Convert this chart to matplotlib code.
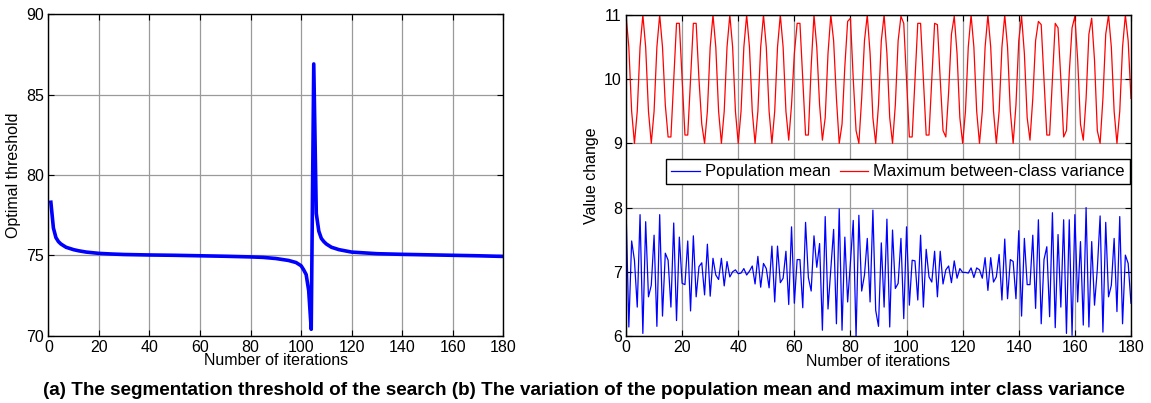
import numpy as np
import matplotlib.pyplot as plt

plt.rcParams['font.family'] = ['Liberation Sans', 'DejaVu Sans']
plt.rcParams['font.size'] = 11

# (a) optimal threshold vs iteration
thr_x = [1, 2, 3, 4, 5, 6, 7, 8, 10, 12, 15, 20, 25, 30, 40, 50, 60, 70, 80, 85,
         90, 95, 98, 100, 101, 102, 103, 104, 105, 106, 107, 108, 109, 110, 112,
         115, 120, 130, 140, 150, 160, 170, 180]
thr_y = [78.3, 76.7, 76.1, 75.85, 75.7, 75.6, 75.5, 75.45, 75.35, 75.28, 75.2,
         75.12, 75.08, 75.05, 75.02, 75.0, 74.97, 74.94, 74.9, 74.87, 74.8, 74.68,
         74.55, 74.35, 74.1, 73.8, 72.8, 70.4, 86.9, 77.6, 76.5, 76.05, 75.85,
         75.7, 75.5, 75.35, 75.2, 75.1, 75.06, 75.03, 75.0, 74.97, 74.93]

# (b) population mean and max between-class variance, iterations 0..180
pop_mean = [
    8.00, 6.14, 7.48, 7.18, 6.45, 7.89, 6.04, 7.78, 6.61, 6.79,
    7.57, 6.15, 7.89, 6.31, 7.29, 7.18, 6.45, 7.76, 6.24, 7.54,
    6.82, 6.80, 7.48, 6.39, 7.56, 6.61, 7.08, 7.14, 6.64, 7.43,
    6.62, 7.21, 6.95, 6.88, 7.21, 6.78, 7.16, 6.92, 7.00, 7.03,
    6.97, 6.98, 7.05, 6.95, 7.01, 7.09, 6.81, 7.24, 6.76, 7.13,
    7.05, 6.75, 7.40, 6.53, 7.40, 6.83, 6.90, 7.32, 6.49, 7.70,
    6.51, 7.19, 7.19, 6.44, 7.77, 6.91, 6.70, 7.56, 7.07, 7.44,
    6.09, 7.86, 6.42, 7.04, 7.66, 6.19, 7.98, 6.09, 7.54, 6.53,
    7.15, 7.80, 5.98, 7.88, 6.70, 6.95, 7.52, 6.53, 7.96, 6.40,
    6.15, 7.45, 6.45, 7.82, 6.14, 7.65, 6.74, 6.82, 7.52, 6.27,
    7.70, 6.48, 7.18, 7.17, 6.56, 7.57, 6.45, 7.35, 6.92, 6.84,
    7.32, 6.61, 7.32, 6.81, 7.03, 7.09, 6.83, 7.17, 6.90, 7.05,
    6.99, 6.99, 6.98, 7.06, 6.91, 7.06, 7.03, 6.90, 7.22, 6.71,
    7.22, 6.84, 6.92, 7.27, 6.56, 7.51, 6.58, 7.19, 7.16, 6.58,
    7.64, 6.31, 7.52, 6.80, 6.80, 7.57, 6.43, 7.81, 6.19, 7.19,
    7.39, 6.30, 7.92, 6.13, 7.58, 6.45, 7.81, 6.04, 7.81, 6.01,
    7.89, 6.53, 7.47, 6.17, 8.00, 6.14, 7.47, 6.48, 7.04, 7.87,
    6.06, 7.77, 6.61, 6.79, 7.52, 6.38, 7.86, 6.19, 7.26, 7.13,
    6.51]

max_var = [
    11.0, 10.5, 9.5, 9.0, 9.5, 10.5, 11.0, 10.5, 9.5, 9.0,
    9.5, 10.5, 11.0, 10.5, 9.6, 9.1, 9.1, 10.0, 10.87, 10.87,
    10.0, 9.13, 9.13, 10.0, 10.87, 10.87, 10.0, 9.3, 9.0, 9.5,
    10.5, 11.0, 10.5, 9.5, 9.0, 9.5, 10.5, 11.0, 10.5, 9.5,
    9.0, 9.5, 10.5, 11.0, 10.5, 9.5, 9.0, 9.5, 10.5, 11.0,
    10.5, 9.5, 9.0, 9.5, 10.5, 11.0, 10.5, 9.5, 9.05, 9.6,
    10.4, 10.87, 10.87, 10.0, 9.13, 9.13, 10.2, 11.0, 10.5, 9.6,
    9.05, 9.4, 10.4, 11.0, 10.6, 9.7, 9.0, 9.3, 10.2, 10.9,
    10.95, 10.0, 9.2, 9.0, 9.7, 10.6, 11.0, 10.4, 9.4, 9.0,
    9.6, 10.6, 11.0, 10.4, 9.4, 9.0, 9.6, 10.6, 10.98, 10.87,
    10.0, 9.1, 9.1, 10.0, 10.87, 10.87, 10.0, 9.13, 9.13, 10.0,
    10.87, 10.85, 10.0, 9.2, 9.1, 9.8, 10.7, 10.98, 10.4, 9.4,
    9.0, 9.5, 10.5, 11.0, 10.5, 9.5, 9.0, 9.5, 10.5, 11.0,
    10.5, 9.5, 9.0, 9.5, 10.5, 11.0, 10.5, 9.5, 9.0, 9.6,
    10.6, 10.98, 10.4, 9.4, 9.05, 9.7, 10.6, 10.9, 10.85, 10.0,
    9.13, 9.13, 10.0, 10.87, 10.8, 10.0, 9.1, 9.2, 10.1, 10.8,
    10.98, 10.3, 9.3, 9.05, 9.7, 10.7, 10.95, 10.3, 9.2, 9.0,
    9.7, 10.7, 11.0, 10.5, 9.5, 9.0, 9.5, 10.5, 11.0, 10.6,
    9.7]

iters = np.arange(len(pop_mean))

fig = plt.figure(figsize=(11.51, 4.03), dpi=100)
ax1 = fig.add_axes([0.042, 0.167, 0.3953, 0.798])
ax2 = fig.add_axes([0.5439, 0.1663, 0.4387, 0.7965])

def style(ax):
    ax.grid(True, color='#9a9a9a', linewidth=0.9)
    ax.set_axisbelow(True)
    ax.tick_params(direction='in', top=True, right=True, length=4, pad=3,
                   labelsize=11.5)
    for s in ax.spines.values():
        s.set_linewidth(1.0)
    ax.set_xlim(0, 180)
    ax.set_xticks(range(0, 181, 20))
    ax.set_xlabel('Number of iterations', labelpad=-1, fontsize=11.5)

ax1.plot(thr_x, thr_y, color='#0000ff', linewidth=2.6)
ax1.set_ylim(70, 90)
ax1.set_yticks([70, 75, 80, 85, 90])
ax1.set_ylabel('Optimal threshold', labelpad=4, fontsize=11.5)
style(ax1)

ax2.plot(iters, pop_mean, color='#0000ff', linewidth=0.9, label='Population mean')
ax2.plot(iters, max_var, color='#ff0000', linewidth=0.9,
         label='Maximum between-class variance')
ax2.set_ylim(6, 11)
ax2.set_yticks(range(6, 12))
ax2.set_ylabel('Value change', labelpad=4, fontsize=11.5)
style(ax2)
ax2.legend(loc='upper right', bbox_to_anchor=(0.998, 0.55), ncol=2,
           fancybox=False, edgecolor='black', framealpha=1, handlelength=1.7,
           handletextpad=0.3, columnspacing=0.6, borderpad=0.3,
           borderaxespad=0.0, fontsize=12)

fig.text(0.507, 0.032, '(a) The segmentation threshold of the search (b) The variation '
         'of the population mean and maximum inter class variance',
         ha='center', va='center', fontweight='bold', fontsize=13.6)

fig.savefig('out.png', dpi=100)
